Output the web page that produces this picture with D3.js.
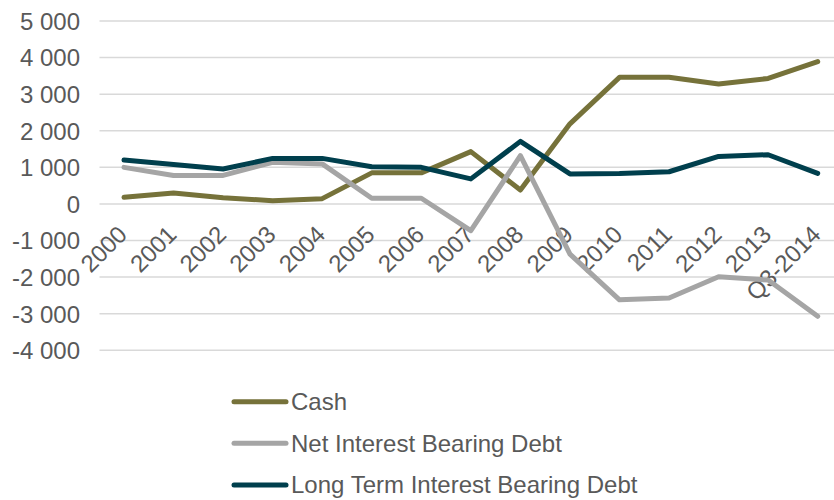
<!DOCTYPE html>
<html>
<head>
<meta charset="utf-8">
<script src="https://cdn.jsdelivr.net/npm/d3@7/dist/d3.min.js"></script>
<style>
  html, body { margin: 0; padding: 0; background: #fff; }
  svg { display: block; font-family: "Liberation Sans", Arial, sans-serif; }
</style>
</head>
<body>
<svg id="chart" width="834" height="500"></svg>
<script>
// Periods on the x axis
const periods = ["2000","2001","2002","2003","2004","2005","2006","2007","2008","2009","2010","2011","2012","2013","Q3-2014"];

// Series values
const cash = [180, 300, 170, 90, 145, 850, 850, 1430, 380, 2190, 3460, 3460, 3280, 3430, 3890];
const netDebt = [1000, 775, 780, 1140, 1095, 155, 155, -730, 1320, -1370, -2620, -2570, -1990, -2080, -3070];
const longTermDebt = [1200, 1075, 955, 1245, 1245, 1015, 1000, 685, 1710, 820, 835, 880, 1300, 1345, 835];

// Y axis ticks
const yTicks = [-4000, -3000, -2000, -1000, 0, 1000, 2000, 3000, 4000, 5000];

const seriesNames = ["Cash", "Net Interest Bearing Debt", "Long Term Interest Bearing Debt"];
const seriesColors = ["#76723A", "#A5A5A5", "#003F4D"];
const seriesData = [cash, netDebt, longTermDebt];

const svg = d3.select("#chart");

const x = d3.scalePoint().domain(periods).range([124, 817.7]);
const y = d3.scaleLinear().domain([-4000, 5000]).range([350.3, 21]);

// thousands separated by a space, plain hyphen for negatives
const fmt = v => (v < 0 ? "-" : "") + d3.format(",")(Math.abs(v)).replace(/,/g, "\u00a0");

// Horizontal grid lines
svg.append("g")
  .selectAll("line")
  .data(yTicks)
  .join("line")
  .attr("x1", 99.5)
  .attr("x2", 843)
  .attr("y1", d => y(d))
  .attr("y2", d => y(d))
  .attr("stroke", "#D9D9D9")
  .attr("stroke-width", 1.5);

// Y axis labels
const yAxis = d3.axisLeft(y).tickValues(yTicks).tickFormat(fmt).tickSize(0).tickPadding(0);
const gy = svg.append("g").attr("transform", "translate(80,0)").call(yAxis);
gy.select(".domain").remove();
gy.selectAll("text")
  .attr("fill", "#595959")
  .attr("font-size", "24px")
  .attr("font-family", "Liberation Sans, Arial, sans-serif")
  .attr("dy", "0.35em");

// X axis labels, rotated
const xAxis = d3.axisBottom(x).tickSize(0).tickPadding(0);
const gx = svg.append("g").attr("transform", `translate(0,${y(0)})`).call(xAxis);
gx.select(".domain").remove();
gx.selectAll("text")
  .attr("fill", "#595959")
  .attr("font-size", "24px")
  .attr("font-family", "Liberation Sans, Arial, sans-serif")
  .attr("text-anchor", "end")
  .attr("dy", null)
  .attr("y", 0)
  .attr("transform", "translate(4,32) rotate(-45)");

// Lines
const line = d3.line()
  .x((d, i) => x(periods[i]))
  .y(d => y(d));

svg.append("g")
  .selectAll("path")
  .data(seriesData)
  .join("path")
  .attr("d", d => line(d))
  .attr("fill", "none")
  .attr("stroke", (d, i) => seriesColors[i])
  .attr("stroke-width", 5)
  .attr("stroke-linejoin", "round")
  .attr("stroke-linecap", "round");

// Legend
const legend = svg.append("g");
const legendY = d3.scalePoint().domain(seriesNames).range([401.7, 485]);
const items = legend.selectAll("g")
  .data(seriesNames)
  .join("g")
  .attr("transform", d => `translate(0,${legendY(d)})`);
items.append("line")
  .attr("x1", 234).attr("x2", 286)
  .attr("y1", 0).attr("y2", 0)
  .attr("stroke", (d, i) => seriesColors[i])
  .attr("stroke-width", 5)
  .attr("stroke-linecap", "round");
items.append("text")
  .attr("x", 291)
  .attr("dy", "0.35em")
  .attr("fill", "#595959")
  .attr("font-size", "24px")
  .text(d => d);
</script>
</body>
</html>
